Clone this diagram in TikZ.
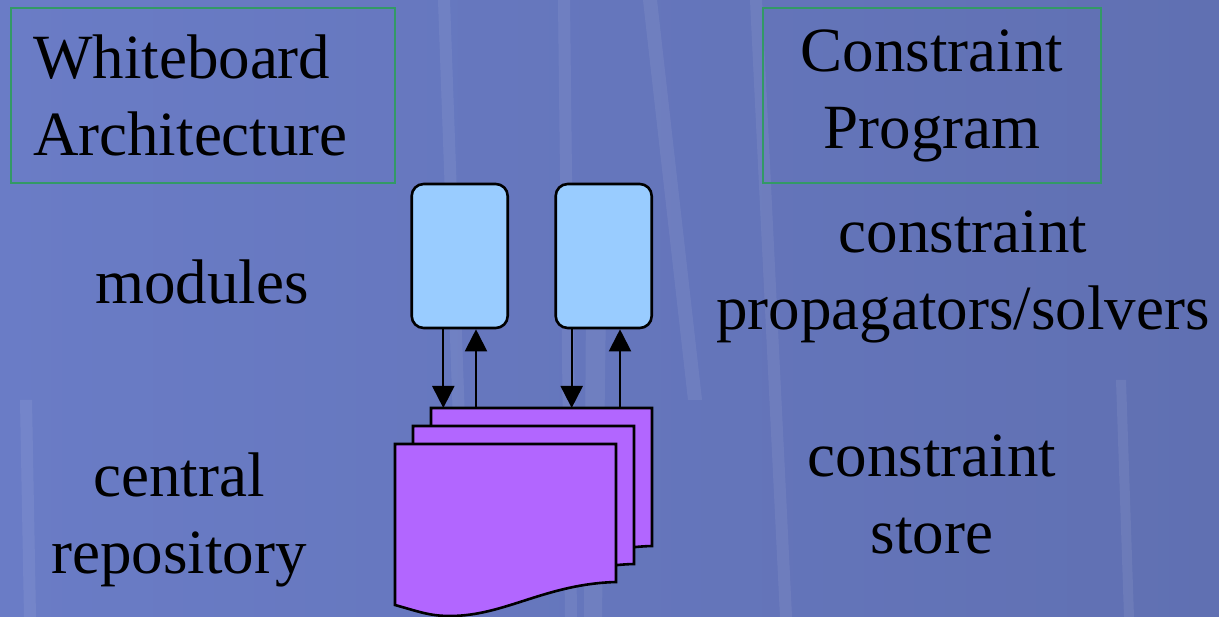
\documentclass[tikz,border=0pt]{standalone}
\usepackage{fontspec}
\setmainfont{Liberation Serif}
\usetikzlibrary{arrows.meta}
\definecolor{slideleft}{RGB}{106,124,198}
\definecolor{slidemid}{RGB}{128,148,228}
\definecolor{slideright}{RGB}{96,112,178}
\definecolor{modfill}{RGB}{153,204,255}
\definecolor{storefill}{RGB}{178,102,255}
\definecolor{framegreen}{RGB}{51,153,102}
\tikzset{
  bigtext/.style={font=\fontsize{63}{77}\selectfont},
  titlebox/.style={bigtext,draw=framegreen,line width=2pt,minimum height=174.4pt,inner sep=0pt},
  modbox/.style={draw,line width=2.6pt,fill=modfill,rounded corners=12pt,minimum width=96pt,minimum height=144pt,inner sep=0pt},
  docpage/.style={draw,line width=2.6pt,fill=storefill},
  link/.style={line width=2pt},
  streak/.style={white,opacity=0.07}
}
\begin{document}
\begin{tikzpicture}[x=1pt,y=-1pt,>={Triangle[length=22pt,width=22pt]}]
  % slide background
  \shade[left color=slideleft,middle color=slidemid,right color=slideright] (0,0) rectangle (1219,617);
  \fill[streak] (643,0) -- (657,0) -- (702,400) -- (688,400) -- cycle;
  \fill[streak] (558,0) -- (570,0) -- (577,617) -- (565,617) -- cycle;
  \fill[streak] (586,300) -- (606,300) -- (602,617) -- (584,617) -- cycle;
  \fill[streak] (438,0) -- (450,0) -- (472,617) -- (460,617) -- cycle;
  \fill[streak] (750,0) -- (762,0) -- (792,617) -- (780,617) -- cycle;
  \fill[streak] (1116,380) -- (1126,380) -- (1134,617) -- (1124,617) -- cycle;
  \fill[streak] (20,400) -- (32,400) -- (36,617) -- (24,617) -- cycle;
  \useasboundingbox (0,0) rectangle (1219,617);

  % titles
  \node[titlebox,text width=339.7pt,inner xsep=22.3pt,align=left] (wbtitle) at (202.9,95.5) {Whiteboard\\Architecture};
  \node[titlebox,minimum width=337.4pt,align=center] (cptitle) at (932,95.5) {Constraint\\Program};

  % labels
  \node[bigtext,anchor=base] (modlabel) at (202,304) {modules};
  \node[bigtext,align=center,anchor=base] (replabel) at (179,573) {central\\repository};
  \node[bigtext,align=center,anchor=base] (solvlabel) at (963,330) {constraint\\propagators/solvers};
  \node[bigtext,align=center,anchor=base] (storelabel) at (932,553) {constraint\\store};

  % modules
  \node[modbox] (mod1) at (459.7,256) {};
  \node[modbox] (mod2) at (603.7,256) {};

  % repository pages
  \foreach \d in {36,18,0}
    \draw[docpage,shift={(395+\d,444-\d)}] (0,0) -- (221,0) -- (221,138)
      .. controls (150,140) and (110,172) .. (55,172)
      .. controls (35,172) and (25,168) .. (0,161) -- cycle;
  \coordinate (storetop) at (431,408);

  \coordinate (m1dn) at ([xshift=-16.4pt]mod1.south);
  \coordinate (m1up) at ([xshift=16.3pt]mod1.south);
  \coordinate (m2dn) at ([xshift=-32pt]mod2.south);
  \coordinate (m2up) at ([xshift=16.3pt]mod2.south);
  \draw[->,link] (m1dn) -- (m1dn |- storetop);
  \draw[<-,link] (m1up) -- (m1up |- storetop);
  \draw[->,link] (m2dn) -- (m2dn |- storetop);
  \draw[<-,link] (m2up) -- (m2up |- storetop);
\end{tikzpicture}
\end{document}
